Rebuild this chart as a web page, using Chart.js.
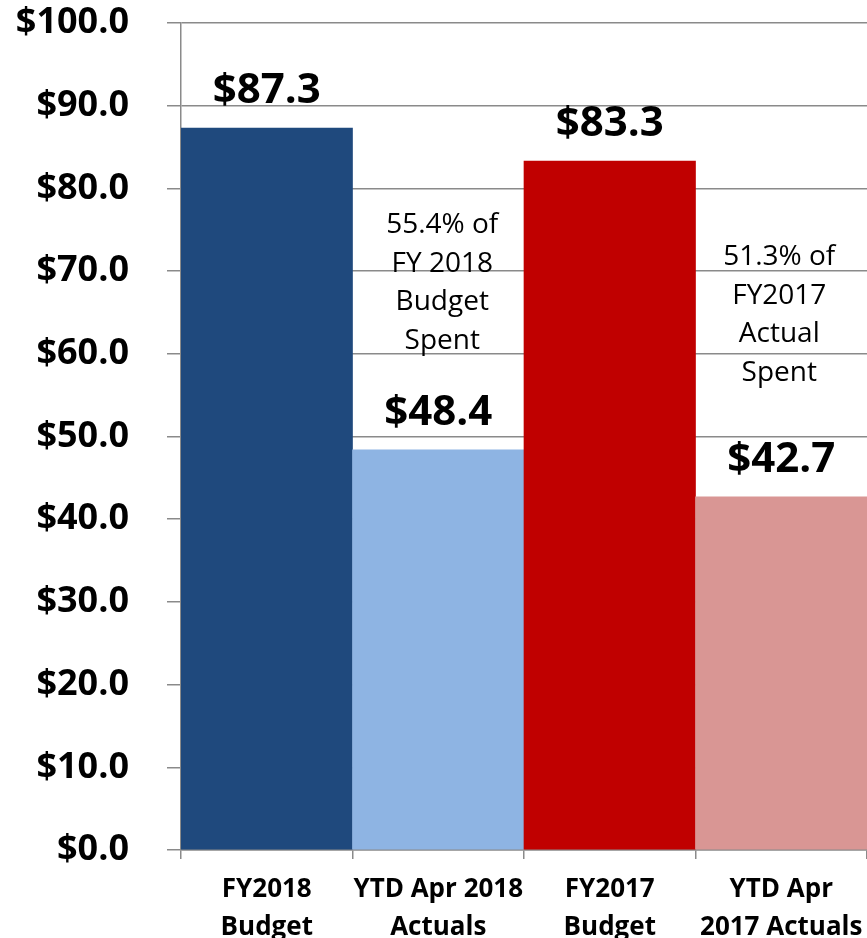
<!DOCTYPE html>
<html>
<head>
<meta charset="utf-8">
<script src="https://cdn.jsdelivr.net/npm/chart.js@4"></script>
<style>
  html, body { margin: 0; padding: 0; background: #fff; }
  canvas { display: block; }
</style>
</head>
<body>
<canvas id="spendChart" width="867" height="938"></canvas>
<script>
const categories = [
    ['FY2018', 'Budget'],
    ['YTD Apr 2018', 'Actuals'],
    ['FY2017', 'Budget'],
    ['YTD Apr', '2017 Actuals']
];
const amounts = [87.3, 48.4, 83.3, 42.7];
const barColors = ['#1F497D', '#8EB4E3', '#C00000', '#D99694'];
const yTicks = [0, 10, 20, 30, 40, 50, 60, 70, 80, 90, 100];
const note2018 = ['55.4% of', 'FY 2018', 'Budget', 'Spent'];
const note2017 = ['51.3% of', 'FY2017', 'Actual', 'Spent'];

const gridGray = '#8a8a8a';

// value labels above bars + the two free text notes
const labelsPlugin = {
    id: 'barLabels',
    afterDatasetsDraw(chart) {
        const ctx = chart.ctx;
        const bars = chart.getDatasetMeta(0).data;
        const y = chart.scales.y;
        ctx.save();
        ctx.fillStyle = '#000';
        ctx.textAlign = 'center';
        ctx.textBaseline = 'alphabetic';
        ctx.font = "bold 42px 'Open Sans'";
        bars.forEach((bar, i) => {
            ctx.fillText('$' + amounts[i].toFixed(1), bar.x, bar.y - 25);
        });

        ctx.font = "28px 'Open Sans'";
        const drawNote = (lines, barIndex, topValue, dx) => {
            const x = bars[barIndex].x + dx;
            const top = y.getPixelForValue(topValue);
            lines.forEach((line, k) => ctx.fillText(line, x, top + k * 38.5));
        };
        drawNote(note2018, 1, 74.6, 4);
        drawNote(note2017, 3, 70.7, -2);
        ctx.restore();
    }
};

const ctx = document.getElementById('spendChart').getContext('2d');
new Chart(ctx, {
    type: 'bar',
    data: {
        labels: categories,
        datasets: [{
            data: amounts,
            backgroundColor: barColors,
            borderWidth: 0,
            barPercentage: 1,
            categoryPercentage: 1
        }]
    },
    options: {
        responsive: false,
        animation: false,
        layout: { padding: 0 },
        plugins: {
            legend: { display: false },
            tooltip: { enabled: false }
        },
        scales: {
            x: {
                afterFit(scale) {
                    scale.height = 88;
                    scale.paddingLeft = 0;
                    scale.paddingRight = 0;
                },
                grid: {
                    offset: true,
                    drawOnChartArea: false,
                    drawTicks: true,
                    tickLength: 9,
                    color: gridGray,
                    lineWidth: 1.5
                },
                border: { display: true, color: gridGray, width: 1.5 },
                ticks: {
                    color: '#000',
                    padding: 12,
                    maxRotation: 0,
                    autoSkip: false,
                    font: { family: "'Open Sans'", size: 26, weight: 'bold', lineHeight: 1.45 }
                }
            },
            y: {
                min: 0,
                max: 100,
                afterFit(scale) {
                    scale.width = 181;
                    scale.paddingTop = 23;
                    scale.paddingBottom = 0;
                },
                afterBuildTicks(scale) { scale.ticks = yTicks.map(v => ({ value: v })); },
                grid: {
                    color: gridGray,
                    lineWidth: 1.5,
                    tickLength: 14
                },
                border: { display: true, color: gridGray, width: 1.5 },
                ticks: {
                    color: '#000',
                    padding: 38,
                    callback: v => '$' + Number(v).toFixed(1),
                    font: { family: "'Open Sans'", size: 36, weight: 'bold' }
                }
            }
        }
    },
    plugins: [labelsPlugin]
});
</script>
</body>
</html>
